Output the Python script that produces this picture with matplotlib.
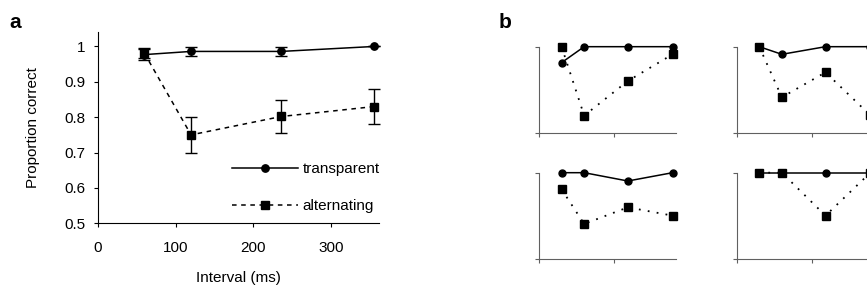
import numpy as np
import matplotlib
matplotlib.use("Agg")
import matplotlib.pyplot as plt
from matplotlib.lines import Line2D

plt.rcParams['font.family'] = ['Liberation Sans', 'DejaVu Sans']

# panel a: mean proportion correct
interval = [60, 120, 236, 355]
transparent = [0.977, 0.986, 0.986, 1.0]
transparent_err = [0.015, 0.013, 0.013, 0.0]
alternating = [0.981, 0.750, 0.802, 0.830]
alternating_err = [0.015, 0.050, 0.046, 0.049]

# panel b: individual observers
obs_transparent = [
    [0.908, 1.0, 1.0, 1.0],
    [1.0, 0.956, 1.0, 1.0],
    [1.0, 1.0, 0.952, 1.0],
    [1.0, 1.0, 1.0, 1.0],
]
obs_alternating = [
    [1.0, 0.602, 0.802, 0.956],
    [1.0, 0.708, 0.852, 0.604],
    [0.904, 0.704, 0.800, 0.752],
    [1.0, 1.0, 0.752, 1.0],
]

fs = 11
fig = plt.figure(figsize=(8.67, 2.92), dpi=100)

# ---- panel a
ax = fig.add_axes([0.1127, 0.2353, 0.3248, 0.654])
ax.errorbar(interval, transparent, yerr=transparent_err, color='black', lw=1.1,
            marker='o', ms=5.3, capsize=4, elinewidth=1, capthick=1,
            clip_on=False, zorder=3)
ax.errorbar(interval, alternating, yerr=alternating_err, color='black', lw=1.1,
            ls=(0, (3, 3)), marker='s', ms=6.3, capsize=4, elinewidth=1, capthick=1,
            clip_on=False, zorder=3)
ax.set_xlim(0, 362)
ax.set_ylim(0.5, 1.04)
ax.set_xticks([0, 100, 200, 300])
ax.set_yticks([0.5, 0.6, 0.7, 0.8, 0.9, 1.0])
ax.set_yticklabels(['0.5', '0.6', '0.7', '0.8', '0.9', '1'])
ax.spines['top'].set_visible(False)
ax.spines['right'].set_visible(False)
ax.tick_params(labelsize=fs, length=3, direction='out')
ax.tick_params(axis='x', pad=10)
ax.tick_params(axis='y', pad=6)
ax.set_xlabel('Interval (ms)', fontsize=fs, labelpad=11)
ax.set_ylabel('Proportion correct', fontsize=fs, labelpad=17)
handles = [
    Line2D([], [], color='black', lw=1.1, marker='o', ms=5.3),
    Line2D([], [], color='black', lw=1.1, ls=(0, (3, 3)), marker='s', ms=6.3),
]
ax.legend(handles, ['transparent', 'alternating'], loc='lower right',
          bbox_to_anchor=(1.05, -0.02), frameon=False, fontsize=fs,
          handlelength=4.3, labelspacing=1.5, handletextpad=0.3)
fig.text(0.011, 0.905, 'a', fontsize=15, fontweight='bold')

# ---- panel b
fig.text(0.575, 0.905, 'b', fontsize=15, fontweight='bold')
lefts = [0.6217, 0.8497, 0.6217, 0.8497]
bottoms = [0.5435, 0.5435, 0.112, 0.112]
for i in range(4):
    bx = fig.add_axes([lefts[i], bottoms[i], 0.158, 0.2966])
    bx.plot(interval, obs_transparent[i], color='black', lw=1.1, marker='o',
            ms=5, clip_on=False, zorder=3)
    bx.plot(interval, obs_alternating[i], color='black', lw=1.3, ls=(0, (1, 4)),
            marker='s', ms=5.3, clip_on=False, zorder=4)
    bx.set_xlim(0, 364)
    bx.set_ylim(0.5, 1.0)
    bx.set_xticks([0, 200])
    bx.set_yticks([0.5, 1.0])
    bx.set_xticklabels([])
    bx.set_yticklabels([])
    bx.tick_params(length=3, direction='out', color='#606060')
    for s in ['top', 'right']:
        bx.spines[s].set_visible(False)
    for s in ['left', 'bottom']:
        bx.spines[s].set_color('#606060')

fig.savefig('out.png', dpi=100)
